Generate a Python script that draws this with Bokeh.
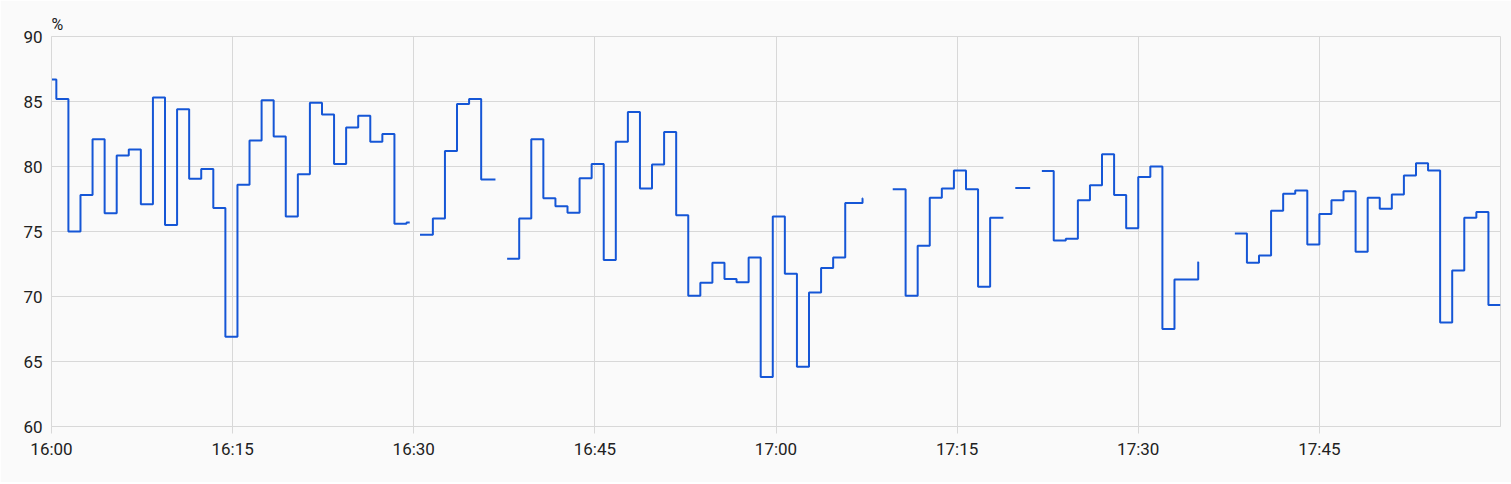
import numpy as np
import pandas as pd
from bokeh.plotting import figure
from bokeh.models import FixedTicker, Range1d
from bokeh.embed import file_html
from bokeh.resources import INLINE

DAY = "2024-01-01 "
START = "16:00:00"
END = "18:00:00"

# step series (value holds until next time); None = value unavailable (gap)
times = [
    "16:00:00", "16:00:24", "16:01:24", "16:02:24", "16:03:24", "16:04:24", "16:05:24", "16:06:24",
    "16:07:24", "16:08:24", "16:09:24", "16:10:24", "16:11:24", "16:12:24", "16:13:24", "16:14:24",
    "16:15:24", "16:16:24", "16:17:24", "16:18:24", "16:19:24", "16:20:24", "16:21:24", "16:22:24",
    "16:23:24", "16:24:24", "16:25:24", "16:26:24", "16:27:24", "16:28:24", "16:29:24", "16:29:40",
    "16:30:31", "16:31:35", "16:32:35", "16:33:35", "16:34:35", "16:35:35", "16:36:46",
    "16:37:44", "16:38:44", "16:39:44", "16:40:44", "16:41:44", "16:42:44", "16:43:44", "16:44:44",
    "16:45:44", "16:46:44", "16:47:44", "16:48:44", "16:49:44", "16:50:44", "16:51:44", "16:52:44",
    "16:53:44", "16:54:44", "16:55:44", "16:56:44", "16:57:44", "16:58:44", "16:59:44", "17:00:44",
    "17:01:44", "17:02:44", "17:03:44", "17:04:44", "17:05:44", "17:07:10", "17:07:11",
    "17:09:40", "17:10:44", "17:11:44", "17:12:44", "17:13:44", "17:14:44", "17:15:44", "17:16:44",
    "17:17:44", "17:18:50",
    "17:19:49", "17:21:03",
    "17:22:01", "17:23:00", "17:24:00", "17:25:00", "17:26:00", "17:27:00", "17:28:00", "17:29:00",
    "17:30:00", "17:31:00", "17:32:00", "17:33:00", "17:34:58", "17:34:59",
    "17:38:00", "17:39:00", "17:40:00", "17:41:00", "17:42:00", "17:43:00", "17:44:00", "17:45:00",
    "17:46:00", "17:47:00", "17:48:00", "17:49:00", "17:50:00", "17:51:00", "17:52:00", "17:53:00",
    "17:54:00", "17:55:00", "17:56:00", "17:57:00", "17:58:00", "17:59:00",
]
values = [
    86.7, 85.2, 75.0, 77.8, 82.1, 76.4, 80.85, 81.3,
    77.1, 85.3, 75.5, 84.4, 79.05, 79.8, 76.8, 66.9,
    78.6, 82.0, 85.1, 82.3, 76.15, 79.4, 84.9, 84.0,
    80.2, 83.0, 83.9, 81.9, 82.5, 75.6, 75.7, None,
    74.75, 76.0, 81.2, 84.8, 85.2, 79.0, None,
    72.9, 76.0, 82.1, 77.55, 76.95, 76.45, 79.1, 80.2,
    72.8, 81.9, 84.2, 78.3, 80.15, 82.65, 76.25, 70.05,
    71.05, 72.6, 71.35, 71.1, 73.0, 63.8, 76.15, 71.75,
    64.6, 70.3, 72.2, 73.0, 77.2, 77.55, None,
    78.25, 70.05, 73.9, 77.6, 78.3, 79.7, 78.25, 70.75,
    76.05, None,
    78.35, None,
    79.65, 74.3, 74.45, 77.4, 78.55, 80.95, 77.8, 75.25,
    79.2, 80.0, 67.5, 71.3, 72.65, None,
    74.85, 72.6, 73.15, 76.6, 77.9, 78.15, 74.0, 76.35,
    77.4, 78.1, 73.45, 77.6, 76.75, 77.85, 79.3, 80.25,
    79.7, 68.0, 72.0, 76.05, 76.5, 69.35,
]

x_ticks = ["16:00", "16:15", "16:30", "16:45", "17:00", "17:15", "17:30", "17:45"]
y_ticks = [60, 65, 70, 75, 80, 85, 90]
unit = "%"


def ms(t):
    return pd.Timestamp(DAY + t).value / 1e6


# build step-after vertices with NaN breaks for gaps
xs, ys = [], []
prev = None
for t, v in zip(times, values):
    tm = ms(t)
    if v is None:
        if prev is not None:
            xs.append(tm); ys.append(prev)
        xs.append(np.nan); ys.append(np.nan)
    else:
        if prev is not None:
            xs.append(tm); ys.append(prev)
        xs.append(tm); ys.append(v)
    prev = v
if prev is not None:
    xs.append(ms(END)); ys.append(prev)

GRID = "#d8d8d8"
TXT = "#212121"
BG = "#fafafa"

p = figure(
    x_axis_type="datetime",
    frame_width=1449, frame_height=390,
    x_range=Range1d(ms(START), ms(END)),
    y_range=Range1d(y_ticks[0], y_ticks[-1]),
    output_backend="svg", toolbar_location=None,
    min_border_left=51, min_border_top=36, min_border_right=11, min_border_bottom=56,
    background_fill_color=BG, border_fill_color=BG,
    outline_line_color=GRID, outline_line_width=1,
    title=unit,
)
p.title.align = "left"
p.title.text_font = "Roboto"
p.title.text_font_size = "16px"
p.title.text_font_style = "normal"
p.title.text_color = TXT
p.title.standoff = 6

p.line(xs, ys, line_color="#1556d6", line_width=2)

p.xaxis.ticker = FixedTicker(ticks=[ms(t + ":00") for t in x_ticks])
p.xaxis.major_label_overrides = {ms(t + ":00"): t for t in x_ticks}
p.yaxis.ticker = FixedTicker(ticks=y_ticks)

for ax in (p.xaxis[0], p.yaxis[0]):
    ax.axis_line_color = GRID
    ax.major_tick_line_color = GRID
    ax.minor_tick_line_color = None
    ax.major_tick_in = 0
    ax.major_label_text_font = "Roboto"
    ax.major_label_text_font_size = "17px"
    ax.major_label_text_color = TXT
p.xaxis.major_tick_out = 7
p.xaxis.major_label_standoff = 5
p.yaxis.major_tick_out = 0
p.yaxis.major_label_standoff = 9

p.xgrid.grid_line_color = GRID
p.ygrid.grid_line_color = GRID
p.xgrid.ticker = p.xaxis.ticker
p.ygrid.ticker = p.yaxis.ticker

html = file_html(p, INLINE)
html = html.replace("<body>", '<body style="background:#fafafa">', 1)
open("out.html", "w").write(html)
